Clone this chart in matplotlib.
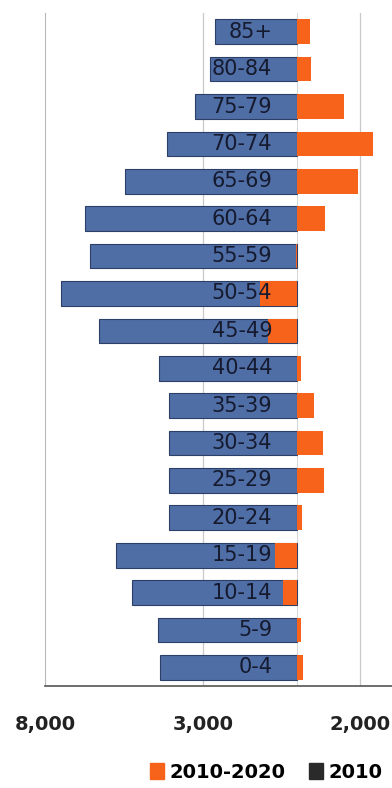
import numpy as np
import matplotlib.pyplot as plt
from matplotlib.patches import Patch

# age groups, bottom to top
ages = ["0-4", "5-9", "10-14", "15-19", "20-24", "25-29", "30-34", "35-39", "40-44",
        "45-49", "50-54", "55-59", "60-64", "65-69", "70-74", "75-79", "80-84", "85+"]
# population 2010 (drawn to the left)
pop_2010 = [4350, 4410, 5240, 5760, 4060, 4070, 4060, 4060, 4400,
            6300, 7490, 6590, 6750, 5470, 4120, 3260, 2770, 2620]
# change 2010-2020
change = [170, 100, -450, -700, 150, 850, 820, 530, 100,
          -920, -1200, -40, 880, 1910, 2410, 1490, 430, 400]
ticks = [-8000, -3000, 2000]

blue = "#4f6ea6"
orange = "#f7631b"

fig = plt.figure(figsize=(3.92, 7.88), dpi=100)
ax = fig.add_axes([0.115, 0.1294, 0.885, 0.854])

y = np.arange(len(ages))
ax.barh(y, -np.array(pop_2010), height=0.66, color=blue,
        edgecolor="#2c3f66", linewidth=0.8, zorder=2)
ax.barh(y, change, height=0.66, color=orange, linewidth=0, zorder=3)

for yi, lab in zip(y, ages):
    ax.text(-800, yi, lab, ha="right", va="center", fontsize=15,
            color="#151a2e", zorder=4)

ax.set_xlim(-8000, 3000)
ax.set_ylim(-0.5, len(ages) - 0.5)
ax.set_xticks(ticks)
ax.set_xticklabels([f"{abs(t):,}" for t in ticks], fontsize=14,
                   fontweight="bold", color="#222222")
ax.tick_params(axis="x", length=0, pad=21)
ax.set_yticks([])

for t in ticks[1:]:
    ax.axvline(t, color="#c8c8c8", linewidth=0.9, zorder=1)
ax.axvline(0, color="#d0d0d0", linewidth=0.6, zorder=1)

for s in ["top", "right"]:
    ax.spines[s].set_visible(False)
ax.spines["left"].set_color("#b8b8b8")
ax.spines["bottom"].set_color("#555555")
ax.spines["bottom"].set_linewidth(1.2)

handles = [Patch(color=orange, label="2010-2020"),
           Patch(color="#2a2a2a", label="2010")]
fig.legend(handles=handles, loc="lower right", bbox_to_anchor=(1.02, -0.014),
           ncol=2, frameon=False, handlelength=0.7, handleheight=0.9,
           handletextpad=0.3, columnspacing=1.2,
           prop={"size": 14, "weight": "bold"})

fig.savefig("out.png", dpi=100, facecolor="white")
